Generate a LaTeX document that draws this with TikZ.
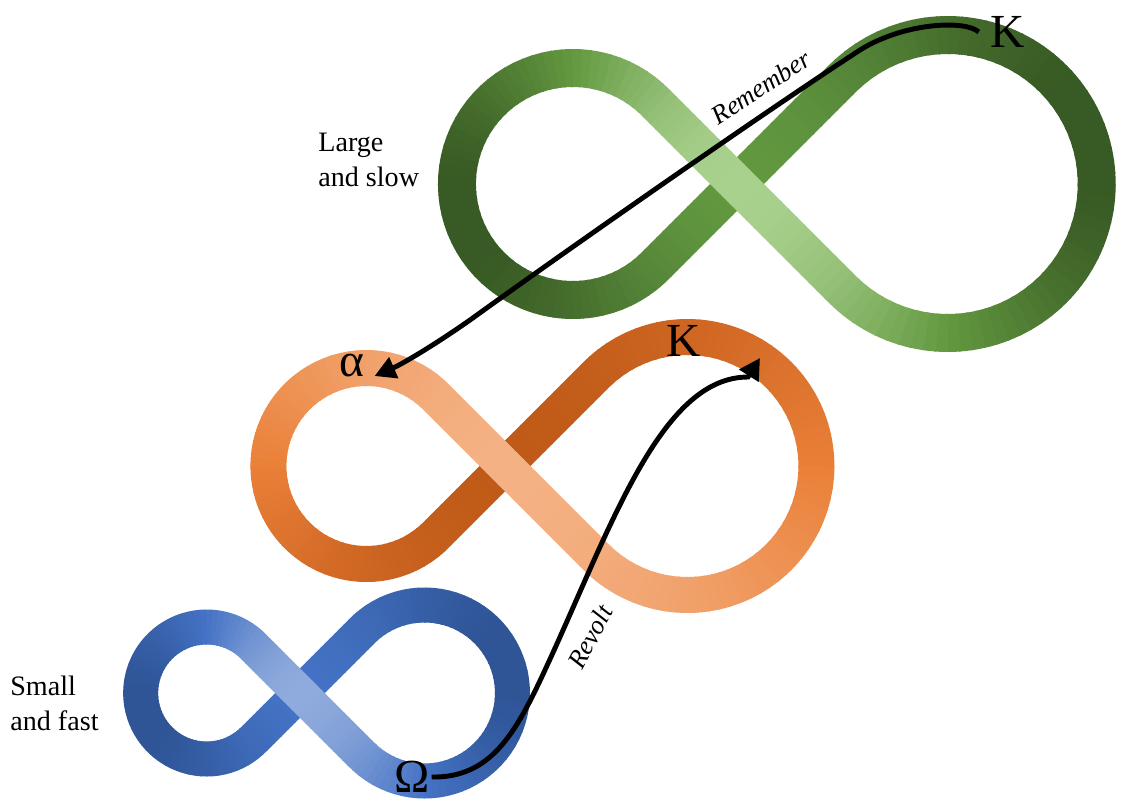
\documentclass[tikz,border=0pt]{standalone}
\usepackage{fontspec}
\setmainfont{Liberation Serif}
\usepackage{tikz}
\usetikzlibrary{arrows.meta,calc}
\definecolor{greendark}{RGB}{56,90,36}
\definecolor{greenmid}{RGB}{98,152,64}
\definecolor{greenlight}{RGB}{169,209,142}
\definecolor{orangedark}{RGB}{192,90,24}
\definecolor{orangemid}{RGB}{234,128,56}
\definecolor{orangelight}{RGB}{244,177,131}
\definecolor{bluedark}{RGB}{47,85,151}
\definecolor{bluemid}{RGB}{68,114,196}
\definecolor{bluelight}{RGB}{143,170,220}

% point on the band for an angle #1: 0-180 right lobe, 180-360 left lobe
\newcommand{\bandpoint}[1]{%
  \pgfmathsetmacro\bandss{mod(#1+720,360)}%
  \ifdim\bandss pt<180pt
    \let\bandR\bandRr\def\bandsg{1}\pgfmathsetmacro\bandsp{\bandss}%
  \else
    \let\bandR\bandRl\def\bandsg{-1}\pgfmathsetmacro\bandsp{\bandss-180}%
  \fi
  \ifdim\bandsp pt<26.82pt
    \pgfmathsetmacro\bandx{\bandcx+\bandsg*\bandR*\bandsp/26.82*0.7071}%
    \pgfmathsetmacro\bandy{\bandcy-\bandR*\bandsp/26.82*0.7071}%
  \else\ifdim\bandsp pt>153.18pt
    \pgfmathsetmacro\bandx{\bandcx+\bandsg*\bandR*(180-\bandsp)/26.82*0.7071}%
    \pgfmathsetmacro\bandy{\bandcy+\bandR*(180-\bandsp)/26.82*0.7071}%
  \else
    \pgfmathsetmacro\bandph{135-(\bandsp-26.82)*2.13675}%
    \pgfmathsetmacro\bandx{\bandcx+\bandsg*(1.4142*\bandR+\bandR*cos(\bandph))}%
    \pgfmathsetmacro\bandy{\bandcy-\bandR*sin(\bandph)}%
  \fi\fi
}

% #1,#2 crossing; #3,#4 right/left lobe radius; #5 band width; #6 colour; #7 shade along the band
\newcommand{\infinityband}[7]{%
  \def\bandcx{#1}\def\bandcy{#2}\def\bandRr{#3}\def\bandRl{#4}%
  \foreach \t in {270,272,...,628} {
    \pgfmathsetmacro\m{\t+1}
    \pgfmathsetmacro\L{max(0,min(1,#7))}
    \ifdim\L pt<0.5pt
      \pgfmathsetmacro\p{200*\L}\colorlet{segc}{#6mid!\p!#6dark}
    \else
      \pgfmathsetmacro\p{200*\L-100}\colorlet{segc}{#6light!\p!#6mid}
    \fi
    \bandpoint{\t}\let\xa\bandx\let\ya\bandy
    \bandpoint{\t+1.2}\let\xb\bandx\let\yb\bandy
    \bandpoint{\t+2.4}\let\xc\bandx\let\yc\bandy
    \draw[segc, line width=#5] (\xa,\ya) -- (\xb,\yb) -- (\xc,\yc);
  }%
}

\tikzset{
  lbl/.style={font=\fontsize{16}{20}\selectfont, align=left, inner sep=0pt},
  sym/.style={font=\fontsize{27}{30}\selectfont, inner sep=1pt},
  flowtext/.style={font=\fontsize{15}{18}\selectfont\itshape, inner sep=1pt},
  flow/.style={line width=2.8pt, -{Triangle[length=0.42cm, width=0.44cm]}},
}

\begin{document}
\begin{tikzpicture}[x=0.02cm, y=-0.02cm]
  \useasboundingbox (0,0) rectangle (1125,802);
  \infinityband{737}{184}{149}{116}{0.76cm}{green}{0.375+0.375*cos(2*\m)-0.25*cos(\m)}
  \infinityband{505}{466}{129}{98}{0.72cm}{orange}{0.5-0.5*cos(\m)}
  \infinityband{300}{693}{88}{66}{0.70cm}{blue}{0.375+0.375*cos(2*\m)-0.25*cos(\m)}

  \node[lbl, anchor=west] (largeslow) at (318,160) {Large\\and slow};
  \node[lbl, anchor=west] (smallfast) at (10,703) {Small\\and fast};
  \node[sym] (kslow) at (1008,32) {K};
  \node[sym] (kmid) at (684,341) {K};
  \node[sym] (alpha) at (352,366) {α};
  \node[sym] (omega) at (412,777) {Ω};
  \coordinate (revoltend) at (760,358);

  \draw[flow] ($(kslow.west)+(-10,0)$) .. controls (966,20) and (905,22) .. (860,50)
    .. controls (760,115) and (560,255) .. (470,320)
    .. controls (430,348) and (400,365) .. ($(alpha.east)+(8,10)$);
  \draw[flow] (omega.east) .. controls (490,778) and (515,735) .. (545,670)
    .. controls (610,530) and (660,377) .. (748,377) -- (revoltend);
  \node[flowtext, rotate=33] (remember) at (761,87) {Remember};
  \node[flowtext, rotate=62] (revolt) at (590,637) {Revolt};
\end{tikzpicture}
\end{document}
